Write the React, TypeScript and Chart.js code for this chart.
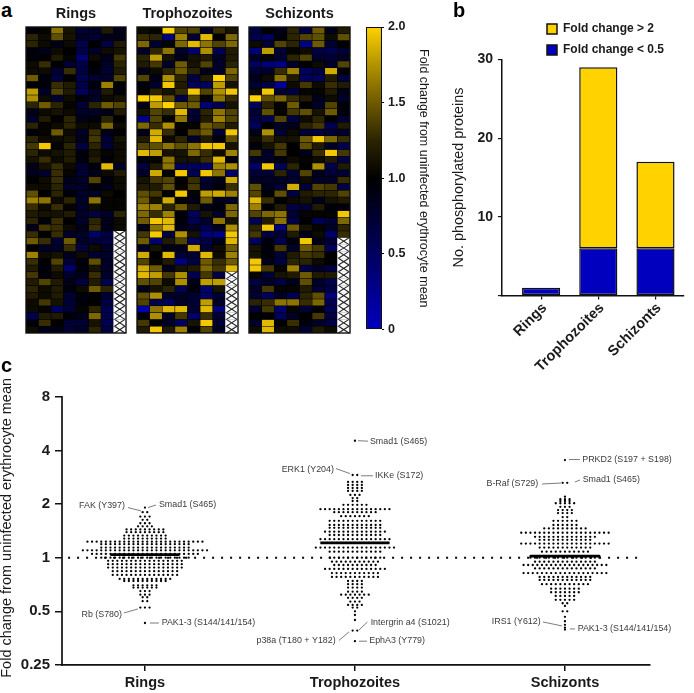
import React, { useEffect, useRef } from "react";
import { Chart, registerables } from "chart.js";

Chart.register(...registerables);
Chart.defaults.font.family = '"Liberation Sans", Arial, sans-serif';
Chart.defaults.color = "#1a1a1a";

const X = null;
const ringsHeat = [
  [.95,1.05,1.6,1.15,.8,.85,1.2,.9],[1.25,1.1,1.45,1.15,.85,.8,.9,.9],[1.25,1.1,.9,1.1,.7,1,.75,1.2],
  [.95,.9,1.1,1,.75,.85,1.1,1.15],[.95,1,1.2,1.05,.55,1.1,.9,1.35],[1.1,1.3,1,.8,.75,1,.85,1.25],
  [1.1,1.1,.8,1.3,.75,.95,.8,1.2],[1.5,.95,.75,1,.7,.8,.85,1.4],[1,.95,1.3,1.2,.75,.95,1.65,1],
  [1.75,.85,1.4,1.2,.65,.85,1.2,.95],[1.7,1.1,.8,1.1,.95,.85,1.1,1.15],[1.25,1.5,1.25,1.05,.8,1.25,1.5,1.4],
  [.9,1.1,1.15,1.1,.85,.85,.9,1.2],[.85,1.2,1,1.25,.9,.95,1.25,1],[1.25,1.05,1.1,1.25,1.1,1.1,1.55,1.1],
  [.95,1.05,1.5,1.1,.85,1.3,.9,1],[1.25,1.1,1.1,1.15,.9,1.35,.8,1.15],[1.35,1.9,1.05,1.25,.75,1.25,.8,1.1],
  [1.25,1.1,1.15,1.2,.95,1.15,1.05,1.1],[1.15,1.3,1.1,1.2,.95,1.2,.95,1.1],[.9,1.15,1.3,1.1,.8,.95,1.85,.85],
  [.9,.85,1.3,1.05,.8,.9,1.1,1.2],[1,1.1,1.3,.9,.85,1.4,.95,1.1],[1.1,1.1,1.25,.85,.85,.95,.9,1.1],
  [1.45,1,1.25,.95,.85,.85,1.1,1],[1.65,1.6,1.1,1.25,.85,1.6,1.05,1.05],[1.3,1.1,1.3,1.05,.85,1.1,1.05,1.05],
  [1.2,1.15,1.15,1.2,.85,.75,.85,1.25],[1.25,.95,1.3,1,.85,1.25,.9,1.1],[.9,1.35,1.3,1.1,.9,1.3,.9,1.1],
  [1.3,1,1.3,.85,.85,.6,.75,X],[1.5,1.3,.8,1.5,.85,.8,.75,X],[1,.85,.85,1.3,.75,1.1,.85,X],
  [1.65,1.1,1.15,.9,1.1,.8,.85,X],[1.3,1,1.4,.8,.95,1.45,.85,X],[1.2,.95,1.2,.6,.95,1.15,.85,X],
  [1.35,.95,1.1,.85,.9,1.3,.85,X],[1.2,1.4,1.2,.9,.75,1.2,.7,X],[1.25,1.1,1.2,.95,1.1,1.5,1.25,X],
  [1.2,1.1,1.2,.8,.95,1,.8,X],[1.1,1.35,1.15,.8,.95,1,.75,X],[1.1,1.05,.65,.8,1.05,1.25,.7,X],
  [.7,1.2,1.2,.95,.9,1.55,.7,X],[.95,1.3,1,.8,.8,1.15,.7,X],[1.1,.9,.9,.8,.85,1.25,.75,X],
];
const trophozoitesHeat = [
  [1.1,1.05,1.95,1.4,1.4,.85,1.3,1.15],[1.3,1.25,.55,1.65,.8,1.85,1,1.55],[1.55,.8,1.05,1.55,1.85,1.6,1.4,1.55],
  [.85,1.25,1.6,.85,.6,1.7,.7,1.2],[1.25,1.75,1.15,.9,1.15,1.2,.85,1.2],[1.2,1.35,.85,1.5,1.15,1.4,.85,1.25],
  [.9,1.1,1.25,1.5,1.25,.9,.85,1.55],[1.4,.9,1.7,1.25,.75,1.2,1.95,1.4],[.95,.85,1.9,1.2,.65,.65,1.75,1.15],
  [1,1.25,1.15,1.3,1.9,1.4,1.7,1.9],[1.95,1.9,1.45,.75,1.4,1.05,1.6,1.3],[.9,1.75,1.95,1.5,1.5,.55,.7,1.15],
  [1.15,1.4,1.3,1.85,.8,1.25,1.6,1.4],[.5,1.4,1.05,1.6,.85,1.2,1.65,1.4],[1.55,1.3,1.7,1.05,1.05,1.5,1.4,1.2],
  [.9,1.8,1.3,1,1.35,1.5,.8,1.9],[1.2,1.85,1.1,1.25,.85,1.2,.95,1.45],[1.4,1.45,1.6,1.45,1.6,1.9,1.9,1.15],
  [1.85,1.75,1.15,1.15,1.55,1.3,1.1,1.65],[.95,1.05,1.6,1.15,1.15,1.3,1.85,.95],[.75,1.2,1.6,.65,.65,.6,1.65,1.7],
  [.85,1.8,1,1.9,.7,1.9,1.6,.6],[1.15,1.35,1.4,1,1.3,.8,.9,1.8],[1.2,1.2,1.45,1.05,1.35,.85,.95,1.3],
  [1.45,1.35,1,1.9,1.05,1.75,1.8,1.65],[1.5,1.15,1.8,1.05,.9,1.5,.9,.85],[1.65,1.65,1.25,1.5,1.2,.9,.95,1.55],
  [1.55,1.3,1.65,.95,.65,1.15,.85,1.55],[1.5,1.9,1.85,.95,.7,.85,1.6,1.15],[.9,1.6,1.85,.9,.85,.7,.9,1.7],
  [1.35,1.9,.75,1.7,1.15,.55,.5,1.9],[1.5,.6,1.2,1.4,.65,.75,.9,1.85],[.85,1.15,.9,.9,1.8,.8,1.1,1.5],
  [1.8,1,1.85,.8,.8,1.85,1.1,1.65],[1.4,1.05,1.2,.5,.75,1.5,1.3,1.5],[1.8,1.5,.9,1.15,1.2,1.55,1.35,1.85],
  [1.85,1.75,1.35,1.7,.7,1.35,.75,X],[1.45,1.4,1.1,1.7,.9,1.75,1.75,X],[.9,1.15,1.25,.7,.95,.6,1.15,X],
  [1.45,1.7,.85,.85,.8,.6,.8,X],[1.4,.7,.65,.85,.8,1.75,.85,X],[.35,1.6,1.85,1.85,.8,1.85,.55,X],
  [.95,1.7,.85,1.35,.6,1.3,.8,X],[1.35,1,.85,.65,1.15,1.9,.8,X],[1.2,1.9,1.2,1.65,1,1.4,.85,X],
];
const schizontsHeat = [
  [.75,1,.9,1.25,.75,1.5,.9,1.2],[.7,.65,.95,1.25,1.4,1.45,1.1,1.45],[1.1,.8,1.4,1.25,.5,1.5,.8,1],
  [.55,1.75,.8,1.05,1.1,.75,.7,.8],[.85,1.05,.8,1.25,1.4,.8,.8,.85],[.65,.55,.5,.85,1,1.1,.85,1.4],
  [.8,.85,1.3,1.65,.65,.75,1.8,1],[.9,1.1,1.6,1.2,.65,.65,1.2,.75],[.8,.75,.45,1.1,1.35,1.1,1.3,1.2],
  [1.1,1.9,.8,.75,1.05,1.05,1.2,.9],[1.95,1.45,1.55,1.3,1.2,.9,1.1,.85],[.65,1.25,1.05,1.5,1,.85,1.4,.95],
  [.8,1.45,1.05,1.35,1.45,1.15,1.5,.95],[.75,.7,1.4,.75,1.1,1.25,1,.8],[.65,1,.85,.9,1.25,1.35,.7,1.2],
  [.9,1.7,.8,1.1,.8,.75,.8,.85],[1.1,1.3,1.15,1.15,1.5,1.9,1.55,1.3],[.95,1.15,1.35,1,1.45,1.2,.85,.7],
  [1.35,.85,1.35,1,.9,1.3,1.9,1.35],[.85,.85,.95,1.1,1.05,1.1,1.2,.75],[.6,1.9,.65,1.25,1,1.7,.7,1.2],
  [.8,.8,1.25,.8,1.4,.9,.8,.8],[.85,.85,.85,.8,1.1,.85,.85,1.3],[1.45,.9,.8,1.8,.8,1.4,1.35,.75],
  [1.4,.95,1.45,.75,1.2,1.25,1.25,1.4],[1.85,1.3,1,1.1,1.15,.9,1.15,1.2],[1.65,.95,1.2,.75,.8,1.2,.95,.95],
  [1.4,1.55,1.6,.8,1.05,1.05,1.05,1.9],[.7,1.2,1.6,.75,1,.7,.8,1.55],[1.25,1.9,.55,1.5,1.15,1.05,.85,1.25],
  [1.35,.75,.8,1.2,.9,1.1,.6,1.3],[.65,.95,.7,.95,1.9,.9,.8,X],[1.15,.95,1.35,.85,1.5,1.35,.65,X],
  [1.15,.95,.8,1.2,1.35,1.3,1,X],[1.9,.9,.75,1.25,1.25,1.1,1,X],[1.9,1.35,1.05,1.65,.75,.85,.75,X],
  [1.05,.8,1.15,1.2,1.5,1.2,1.2,X],[.75,.85,.75,.9,1.45,.85,.7,X],[.85,1.35,1.05,1.05,1.2,.8,.75,X],
  [.8,.65,.85,.7,1.25,1.45,.55,X],[1.25,1.3,1.6,1.6,1.3,1.55,.7,X],[.8,1.35,.6,1.05,.8,.95,.7,X],
  [1,1,.65,.85,1,1.35,.75,X],[.85,1.85,1,1.3,.95,.85,.75,X],[1.1,1.85,1.1,1.1,.8,1.2,1.1,X],
];

const stages = ["Rings", "Trophozoites", "Schizonts"];
const foldUp = [0, 23, 11];
const foldDown = [1, 6, 6];
const colorbarTicks = [0, 0.5, 1, 1.5, 2];
const barTicks = [0, 10, 20, 30];
const swarmTicks = [0.25, 0.5, 1, 2, 4, 8];

const ringsLevels = [1.91,1.8,1.7,1.63,1.56,1.5,1.44,1.39,1.33,1.28,1.23,1.19,1.14,1.1,1.05,1,.96,.92,.88,.84,.8,.76,.74,.7,.68,.65,.62,.6,.57,.525,.43];
const ringsCounts = [1,2,3,2,3,4,9,9,10,10,26,20,20,28,24,20,17,17,17,15,15,12,10,6,6,3,3,2,2,3,1];
const trophozoitesLevels = [4.53,2.91,2.66,2.56,2.46,2.37,2.25,2.16,2.08,1.98,1.87,1.8,1.71,1.61,1.525,1.47,1.4,1.34,1.27,1.21,1.14,1.08,1,.95,.91,.865,.82,.78,.74,.71,.68,.645,.62,.595,.567,.543,.525,.5,.477,.447,.39,.34];
const trophozoitesCounts = [1,2,4,4,4,4,3,2,2,6,16,10,7,12,12,12,14,12,16,15,18,12,12,11,10,14,11,11,4,4,4,4,7,4,3,4,2,1,1,1,2,1];
const schizontsLevels = [3.53,2.63,2.2,2.13,2.08,2.02,1.93,1.85,1.78,1.69,1.61,1.525,1.46,1.38,1.31,1.26,1.2,1.14,1.08,1.02,1,.95,.91,.87,.82,.78,.75,.71,.67,.64,.61,.58,.555,.536,.5,.466,.44,.42,.405,.395];
const schizontsCounts = [1,2,1,3,3,5,3,4,4,2,6,6,10,20,14,12,20,12,11,16,16,14,19,14,19,12,12,11,7,7,5,5,2,1,2,1,1,1,1,1];
const medians = [1.04, 1.21, 1.02];

// label offsets from the annotated point, in pixels: text x/y, then leader line start and end
const annotations = [
  { text: "FAK (Y397)", stage: 1, value: 1.8, tx: -20, ty: -7, line: [-17, -4.6, -4, -1.3], align: "right" },
  { text: "Smad1 (S465)", stage: 1, value: 1.91, tx: 14, ty: -2.6, line: [3, 0, 11, -2.6], align: "left" },
  { text: "Rb (S780)", stage: 1, value: 0.525, tx: -23, ty: 6.7, line: [-21, 5.4, -7, 1.4], align: "right" },
  { text: "PAK1-3 (S144/141/154)", stage: 1, value: 0.43, tx: 16.7, ty: 0, line: [5, 0, 14, 0], align: "left" },
  { text: "Smad1 (S465)", stage: 2, value: 4.53, tx: 15, ty: 0.4, line: [3, 0, 13, 0.4], align: "left" },
  { text: "ERK1 (Y204)", stage: 2, value: 2.91, tx: -21, ty: -5.9, line: [-19, -6.4, -5, -1.4], align: "right" },
  { text: "IKKe (S172)", stage: 2, value: 2.91, tx: 20, ty: 1, line: [6, 0.8, 18, 0.8], align: "left" },
  { text: "Intergrin a4 (S1021)", stage: 2, value: 0.39, tx: 15.7, ty: -8.3, line: [4, -0.6, 12.5, -8.6], align: "left" },
  { text: "p38a (T180 + Y182)", stage: 2, value: 0.39, tx: -19.3, ty: 10.4, line: [-16, 9.9, -6, 1.4], align: "right" },
  { text: "EphA3 (Y779)", stage: 2, value: 0.34, tx: 14.3, ty: -0.3, line: [4, 0, 12, 0], align: "left" },
  { text: "PRKD2 (S197 + S198)", stage: 3, value: 3.53, tx: 17.3, ty: 0, line: [4, -0.5, 15, -0.5], align: "left" },
  { text: "B-Raf (S729)", stage: 3, value: 2.63, tx: -26.7, ty: 1.2, line: [-23, 1.2, -4, 0.2], align: "right" },
  { text: "Smad1 (S465)", stage: 3, value: 2.63, tx: 17.7, ty: -2.8, line: [10, -0.8, 15, -2.8], align: "left" },
  { text: "IRS1 (Y612)", stage: 3, value: 0.405, tx: -24.3, ty: -6, line: [-22, -5.7, -3, -1.7], align: "right" },
  { text: "PAK1-3 (S144/141/154)", stage: 3, value: 0.405, tx: 12.7, ty: 1.3, line: [5, 1.3, 10, 1.3], align: "left" },
];

const YELLOW = "#FFD200";
const BLUE = "#0000BE";
const INK = "#1a1a1a";
const SANS = '"Liberation Sans", Arial, sans-serif';

function heatColor(v: number | null) {
  if (v === null) return "#ffffff";
  if (v < 1) return `rgb(0,0,${Math.min(190, Math.round((1 - v) * 2 * 133))})`;
  const t = Math.min(1, v - 1);
  const k = Math.min(1, Math.pow(t, 1.35) * 1.1);
  return `rgb(${Math.round(255 * k)},${Math.round(210 * k)},0)`;
}

function heatConfig(title: string, rows: (number | null)[][]) {
  return {
    type: "bar",
    data: {
      labels: rows[0].map((_, i) => `S${i + 1}`),
      datasets: rows.map((row, r) => ({
        label: `Protein ${r + 1}`,
        data: row.map(() => 1),
        backgroundColor: row.map(heatColor),
        borderColor: "rgba(0,0,0,0.45)",
        borderWidth: 0.6,
        borderSkipped: false,
        categoryPercentage: 1,
        barPercentage: 1,
      })),
    },
    options: {
      responsive: false,
      animation: false,
      layout: { padding: { left: 1, right: 1, bottom: 1, top: 0 } },
      scales: {
        x: { stacked: true, display: false },
        y: { stacked: true, display: false, min: 0, max: rows.length, reverse: true },
      },
      plugins: {
        legend: { display: false },
        tooltip: { enabled: false },
        title: {
          display: true,
          text: title,
          color: INK,
          font: { size: 14.5, weight: "bold" },
          padding: { top: 5, bottom: 4.6 },
        },
      },
    },
    plugins: [
      {
        id: "heatFrame",
        beforeDatasetsDraw(chart: any) {
          const { ctx, chartArea: a } = chart;
          ctx.fillStyle = "#000";
          ctx.fillRect(a.left, a.top, a.width, a.height);
        },
        afterDatasetsDraw(chart: any) {
          const { ctx, chartArea: a } = chart;
          ctx.save();
          rows.forEach((row, r) => {
            const meta = chart.getDatasetMeta(r);
            row.forEach((v, c) => {
              if (v !== null) return;
              const b = meta.data[c].getProps(["x", "y", "base", "width"], true);
              const l = b.x - b.width / 2;
              const t = Math.min(b.y, b.base);
              const h = Math.abs(b.base - b.y);
              ctx.fillStyle = "#fff";
              ctx.fillRect(l, t, b.width, h);
              ctx.strokeStyle = "#222";
              ctx.lineWidth = 1.1;
              ctx.beginPath();
              ctx.moveTo(l + 1, t);
              ctx.lineTo(l + b.width - 1, t + h);
              ctx.moveTo(l + b.width - 1, t);
              ctx.lineTo(l + 1, t + h);
              ctx.stroke();
            });
          });
          ctx.strokeStyle = "#111";
          ctx.lineWidth = 1.4;
          ctx.strokeRect(a.left, a.top, a.width, a.height);
          ctx.restore();
        },
      },
    ],
  };
}

function colorbarConfig() {
  return {
    type: "bar",
    data: {
      labels: ["Fold change"],
      datasets: [
        {
          data: [[colorbarTicks[0], colorbarTicks[colorbarTicks.length - 1]]],
          categoryPercentage: 1,
          barPercentage: 1,
          borderWidth: 1.4,
          borderColor: "#111",
          borderSkipped: false,
          backgroundColor(ctx: any) {
            const a = ctx.chart.chartArea;
            if (!a) return BLUE;
            const g = ctx.chart.ctx.createLinearGradient(0, a.bottom, 0, a.top);
            g.addColorStop(0, BLUE);
            g.addColorStop(0.5, "#000");
            g.addColorStop(0.625, "rgb(43,36,0)");
            g.addColorStop(0.75, "rgb(110,90,0)");
            g.addColorStop(0.875, "rgb(178,147,0)");
            g.addColorStop(1, YELLOW);
            return g;
          },
        },
      ],
    },
    options: {
      responsive: false,
      animation: false,
      layout: { padding: { left: 1, right: 0, top: 12, bottom: 8 } },
      scales: {
        x: { display: false },
        y: {
          position: "right",
          min: 0,
          max: 2,
          afterFit(s: any) {
            s.width = 62;
          },
          afterBuildTicks(s: any) {
            s.ticks = colorbarTicks.map((value) => ({ value }));
          },
          border: { display: false },
          grid: { drawOnChartArea: false, tickLength: 2, color: "#000" },
          ticks: {
            padding: 4,
            color: INK,
            font: { size: 12.5, weight: "bold" },
            callback: (v: number) => (v === 0 ? "0" : v.toFixed(1)),
          },
          title: {
            display: true,
            text: "Fold change from uninfected erythrocyte mean",
            color: INK,
            font: { size: 12.5, lineHeight: 1 },
            padding: { top: 14, bottom: 0 },
          },
        },
      },
      plugins: { legend: { display: false }, tooltip: { enabled: false } },
    },
  };
}

function barsConfig() {
  const border = { borderColor: "#111", borderWidth: 1.5, borderSkipped: false, categoryPercentage: 1, barPercentage: 0.667 };
  return {
    type: "bar",
    data: {
      datasets: [
        { label: "Fold change < 0.5", data: foldDown.map((y, i) => ({ x: i + 1, y })), backgroundColor: BLUE, ...border },
        { label: "Fold change > 2", data: foldUp.map((y, i) => ({ x: i + 1, y })), backgroundColor: YELLOW, ...border },
      ],
    },
    options: {
      responsive: false,
      animation: false,
      layout: { padding: { left: 0, right: 6.5, top: 49.5, bottom: 0 } },
      scales: {
        x: {
          type: "linear",
          stacked: true,
          min: 0.316,
          max: 3.49,
          offset: false,
          afterFit(s: any) {
            s.height = 89.5;
          },
          afterBuildTicks(s: any) {
            s.ticks = stages.map((_, i) => ({ value: i + 1 }));
          },
          border: { color: "#111", width: 1.5 },
          grid: { offset: false, drawOnChartArea: false, tickLength: 4, color: "#111", lineWidth: 1.2 },
          ticks: {
            minRotation: 45,
            maxRotation: 45,
            padding: 0,
            labelOffset: 3.5,
            color: INK,
            font: { size: 14.5, weight: "bold" },
            callback: (v: number) => stages[v - 1] ?? "",
          },
        },
        y: {
          stacked: true,
          min: 0,
          max: 30,
          afterFit(s: any) {
            s.width = 50;
          },
          afterBuildTicks(s: any) {
            s.ticks = barTicks.map((value) => ({ value }));
          },
          border: { color: "#111", width: 1.5 },
          grid: { drawOnChartArea: false, tickLength: 4, color: "#111", lineWidth: 1.2 },
          ticks: {
            padding: 5,
            color: INK,
            font: { size: 14, weight: "bold" },
            callback: (v: number) => (v === 0 ? "" : String(v)),
          },
          title: {
            display: true,
            text: "No. phosphorylated proteins",
            color: INK,
            font: { size: 14.4, lineHeight: 1 },
            padding: { top: 0, bottom: 0 },
          },
        },
      },
      plugins: {
        tooltip: { enabled: false },
        legend: {
          position: "chartArea",
          align: "start",
          reverse: true,
          labels: {
            boxWidth: 10,
            boxHeight: 10,
            padding: 9,
            color: INK,
            font: { size: 12, weight: "bold" },
          },
        },
      },
    },
    plugins: [
      {
        id: "legendPlace",
        afterLayout(chart: any) {
          chart.legend.left = 86;
          chart.legend.top = 4;
        },
      },
    ],
  };
}

function swarmPoints(stage: number, levels: number[], counts: number[]) {
  const slot = 4.6 / 210;
  const pts: { x: number; y: number }[] = [];
  levels.forEach((y, i) => {
    const n = counts[i];
    for (let k = 0; k < n; k++) pts.push({ x: stage + (k - (n - 1) / 2) * slot, y });
  });
  return pts;
}

function swarmConfig() {
  const dots = { type: "scatter", pointRadius: 1.15, pointBackgroundColor: "#000", pointBorderWidth: 0, showLine: false };
  const medianWidth = 0.165;
  const medianSet = (i: number) => ({
    type: "scatter",
    label: `${stages[i]} median`,
    showLine: true,
    pointRadius: 0,
    borderColor: "#000",
    borderWidth: 2.6,
    data: [
      { x: i + 1 - medianWidth, y: medians[i] },
      { x: i + 1 + medianWidth, y: medians[i] },
    ],
  });
  return {
    type: "scatter",
    data: {
      datasets: [
        {
          type: "scatter",
          label: "Uninfected mean",
          showLine: true,
          pointRadius: 0,
          borderColor: "#000",
          borderWidth: 2,
          borderDash: [2, 7],
          data: [
            { x: 0.634, y: 1 },
            { x: 3.37, y: 1 },
          ],
        },
        { ...dots, label: stages[0], data: swarmPoints(1, ringsLevels, ringsCounts) },
        { ...dots, label: stages[1], data: swarmPoints(2, trophozoitesLevels, trophozoitesCounts) },
        { ...dots, label: stages[2], data: swarmPoints(3, schizontsLevels, schizontsCounts) },
        medianSet(0),
        medianSet(1),
        medianSet(2),
      ],
    },
    options: {
      responsive: false,
      animation: false,
      layout: { padding: { left: 0, right: 44, top: 31.7, bottom: 0 } },
      scales: {
        x: {
          type: "linear",
          min: 0.605,
          max: 3.405,
          afterFit(s: any) {
            s.height = 28;
          },
          afterBuildTicks(s: any) {
            s.ticks = stages.map((_, i) => ({ value: i + 1 }));
          },
          border: { color: "#111", width: 1.7 },
          grid: { drawOnChartArea: false, tickLength: 6, color: "#111", lineWidth: 1.5 },
          ticks: {
            padding: 3,
            color: INK,
            maxRotation: 0,
            font: { size: 14.5, weight: "bold" },
            callback: (v: number) => stages[v - 1] ?? "",
          },
        },
        y: {
          type: "logarithmic",
          min: 0.25,
          max: 8,
          afterFit(s: any) {
            s.width = 62;
          },
          afterBuildTicks(s: any) {
            s.ticks = swarmTicks.map((value) => ({ value }));
          },
          border: { display: false },
          grid: { drawOnChartArea: false, tickLength: 7, color: "#111", lineWidth: 1.5 },
          ticks: {
            padding: 5,
            color: INK,
            autoSkip: false,
            font: { size: 15, weight: "bold" },
            callback: (v: number) => String(v),
          },
          title: {
            display: true,
            text: "Fold change from uninfected erythrocyte mean",
            color: INK,
            font: { size: 14.5, lineHeight: 1 },
            padding: { top: 0, bottom: 0 },
          },
        },
      },
      plugins: { legend: { display: false }, tooltip: { enabled: false } },
    },
    plugins: [
      {
        id: "titleLift",
        afterLayout(chart: any) {
          chart.scales.y.top -= 6;
        },
      },
      {
        id: "yAxisLine",
        afterDraw(chart: any) {
          const { ctx, chartArea: a } = chart;
          ctx.save();
          ctx.strokeStyle = "#111";
          ctx.lineWidth = 1.7;
          ctx.beginPath();
          ctx.moveTo(a.left, a.top - 0.7);
          ctx.lineTo(a.left, a.bottom + 0.8);
          ctx.stroke();
          ctx.restore();
        },
      },
      {
        id: "proteinLabels",
        afterDatasetsDraw(chart: any) {
          const { ctx, scales } = chart;
          ctx.save();
          ctx.font = `8.9px ${SANS}`;
          ctx.textBaseline = "middle";
          annotations.forEach((a) => {
            const px = scales.x.getPixelForValue(a.stage);
            const py = scales.y.getPixelForValue(a.value);
            ctx.strokeStyle = "#444";
            ctx.lineWidth = 0.7;
            ctx.beginPath();
            ctx.moveTo(px + a.line[0], py + a.line[1]);
            ctx.lineTo(px + a.line[2], py + a.line[3]);
            ctx.stroke();
            ctx.fillStyle = "#3a3a3a";
            ctx.textAlign = a.align;
            ctx.fillText(a.text, px + a.tx, py + a.ty);
          });
          ctx.restore();
        },
      },
    ],
  };
}

const boxes = [
  { key: "rings", left: 25, top: 0, width: 102, height: 334, make: () => heatConfig(stages[0], ringsHeat) },
  { key: "trophozoites", left: 136, top: 0, width: 103, height: 334, make: () => heatConfig(stages[1], trophozoitesHeat) },
  { key: "schizonts", left: 248, top: 0, width: 103, height: 334, make: () => heatConfig(stages[2], schizontsHeat) },
  { key: "colorbar", left: 365, top: 15, width: 79, height: 326, make: colorbarConfig },
  { key: "bars", left: 452, top: 10, width: 238, height: 375, make: barsConfig },
  { key: "swarm", left: 0, top: 365, width: 694, height: 328, make: swarmConfig },
];

const letters = [
  { text: "a", left: 1, top: -2 },
  { text: "b", left: 453, top: -2 },
  { text: "c", left: 1, top: 353 },
];

export default function App() {
  const refs = useRef<(HTMLCanvasElement | null)[]>([]);
  useEffect(() => {
    const charts = boxes.map((b, i) => new Chart(refs.current[i] as HTMLCanvasElement, b.make() as any));
    return () => charts.forEach((c) => c.destroy());
  }, []);
  return (
    <div style={{ position: "absolute", left: 0, top: 0, width: 694, height: 693, background: "#fff", overflow: "hidden" }}>
      {boxes.map((b, i) => (
        <canvas
          key={b.key}
          ref={(el) => {
            refs.current[i] = el;
          }}
          width={b.width}
          height={b.height}
          style={{ position: "absolute", left: b.left, top: b.top, width: b.width, height: b.height }}
        />
      ))}
      {letters.map((l) => (
        <div
          key={l.text}
          style={{ position: "absolute", left: l.left, top: l.top, font: `bold 20px ${SANS}`, color: "#000", lineHeight: "24px" }}
        >
          {l.text}
        </div>
      ))}
    </div>
  );
}
